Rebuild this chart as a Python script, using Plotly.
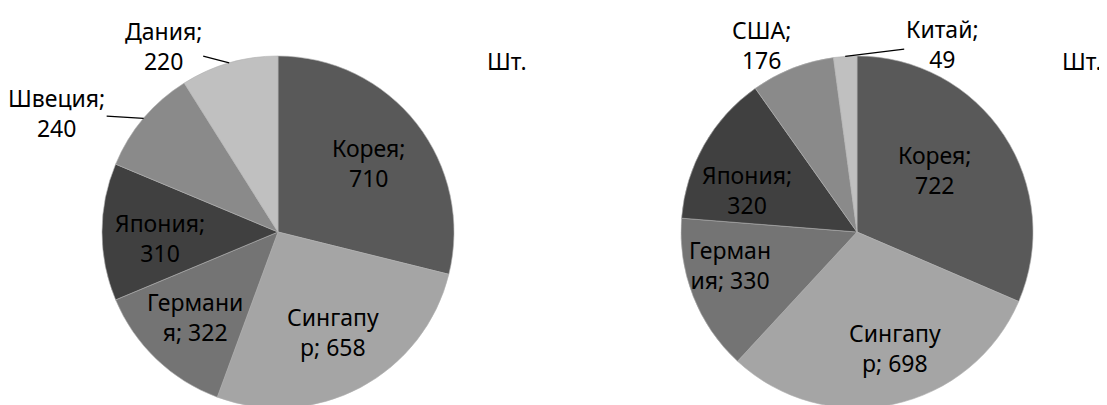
import math
import plotly.graph_objects as go

# Data
left_countries = ["Корея", "Сингапур", "Германия", "Япония", "Швеция", "Дания"]
left_values = [710, 658, 322, 310, 240, 220]
left_texts = ["Корея;<br>710", "Сингапу<br>р; 658", "Германи<br>я; 322",
              "Япония;<br>310", "Швеция;<br>240", "Дания;<br>220"]

right_countries = ["Корея", "Сингапур", "Германия", "Япония", "США", "Китай"]
right_values = [722, 698, 330, 320, 176, 49]
right_texts = ["Корея;<br>722", "Сингапу<br>р; 698", "Герман<br>ия; 330",
               "Япония;<br>320", "США;<br>176", "Китай;<br>49"]

unit_label = "Шт."

# Style
W, H = 1107, 405
OFF = 8  # page body margin
FONT = "Noto Sans"
FS = 23
left_colors = ["#595959", "#a5a5a5", "#747474", "#404040", "#8a8a8a", "#c0c0c0"]
right_colors = ["#595959", "#a5a5a5", "#747474", "#404040", "#8a8a8a", "#c0c0c0"]

# pie boxes in page pixels: (left, top, size)
left_box = (102 - OFF, 56 - OFF, 352)
right_box = (681 - OFF, 56 - OFF, 352)

# label placement: ("in", nudge_x, nudge_y) -> inside; ("out", dx, dy, arrow) -> outside
left_place = [("in", 2, 0), ("in", 2, 0), ("in", -5, 4), ("in", -5, 6),
              ("out", -87, -5, True), ("out", -66, -17, True)]
right_place = [("in", -17, 0), ("in", 15, 6), ("in", -22, -8), ("in", -12, 14),
               ("out", -31, -23, False), ("out", 97, -12, True)]


def domain(box):
    x0, y0, s = box
    return dict(x=[x0 / W, (x0 + s) / W], y=[max(0, 1 - (y0 + s) / H), 1 - y0 / H])


def labels(values, texts, box, place):
    x0, y0, s = box
    cx, cy, r = x0 + s / 2, y0 + s / 2, s / 2
    total = sum(values)
    out = []
    acc = 0
    for v, t, p in zip(values, texts, place):
        mid = math.radians((acc + v / 2) / total * 360)
        acc += v
        sx, sy = math.sin(mid), -math.cos(mid)
        if p[0] == "in":
            k = 0.64
            out.append(dict(x=(cx + k * r * sx) / W, y=1 - (cy + k * r * sy) / H,
                            text=t, showarrow=False, xshift=p[1], yshift=-p[2]))
        else:
            _, dx, dy, arrow = p
            px, py = cx + r * sx, cy + r * sy
            if arrow:
                out.append(dict(x=px / W, y=1 - py / H, text=t, showarrow=True,
                                ax=dx, ay=dy, arrowhead=0, arrowwidth=1.2,
                                arrowcolor="black", standoff=0))
            else:
                out.append(dict(x=px / W, y=1 - py / H, text=t, showarrow=False,
                                xshift=dx, yshift=-dy))
    for a in out:
        a.update(xref="paper", yref="paper", align="center",
                 xanchor="center", yanchor="middle",
                 font=dict(family=FONT, size=FS, color="black"))
    return out


fig = go.Figure()

fig.add_trace(go.Pie(
    labels=left_countries, values=left_values, domain=domain(left_box),
    sort=False, direction="clockwise", rotation=0, textinfo="none",
    marker=dict(colors=left_colors, line=dict(color="#b0b0b0", width=0.6)),
    showlegend=False
))

fig.add_trace(go.Pie(
    labels=right_countries, values=right_values, domain=domain(right_box),
    sort=False, direction="clockwise", rotation=0, textinfo="none",
    marker=dict(colors=right_colors, line=dict(color="#b0b0b0", width=0.6)),
    showlegend=False
))

annotations = labels(left_values, left_texts, left_box, left_place)
annotations += labels(right_values, right_texts, right_box, right_place)

for x in (507, 1082):
    annotations.append(dict(x=(x - OFF) / W, y=1 - (61 - OFF) / H,
                            xref="paper", yref="paper",
                            xanchor="center", yanchor="middle",
                            text=unit_label, showarrow=False,
                            font=dict(family=FONT, size=FS, color="black")))

fig.update_layout(
    width=W, height=H,
    margin=dict(l=0, r=0, t=0, b=0),
    paper_bgcolor="white", plot_bgcolor="white",
    font=dict(family=FONT, size=FS, color="black"),
    annotations=annotations
)

fig.write_html("out.html")
